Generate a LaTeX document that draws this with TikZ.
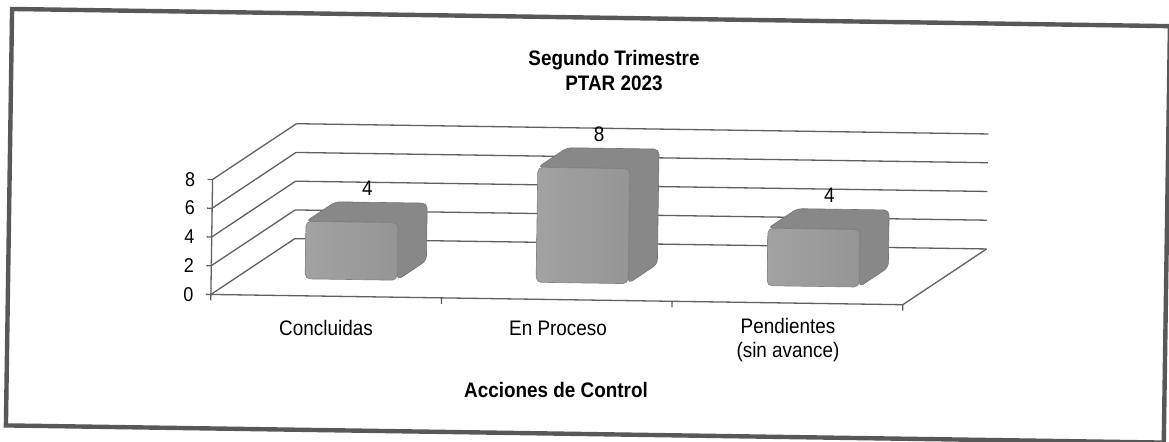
\documentclass[tikz,border=0pt]{standalone}
\usepackage{fontspec}
\setmainfont{Liberation Sans}[FakeStretch=0.9]
\usepackage{tikz}
\definecolor{framegray}{HTML}{585858}
\definecolor{gridgray}{HTML}{606060}
\definecolor{barface}{HTML}{A2A2A2}
\definecolor{barlight}{HTML}{B4B4B4}
\definecolor{bardark}{HTML}{888888}

\begin{document}
\begin{tikzpicture}[x=0.5pt,y=-0.5pt,
    gridline/.style={gridgray,line width=0.65pt},
    barside/.style={rounded corners=2.5pt,fill=bardark,draw=bardark!85!black,line width=0.3pt},
    barfront/.style={rounded corners=2.5pt,left color=barface,middle color=barlight,right color=barface!92!black,draw=barface!80!black,line width=0.3pt},
    ticklbl/.style={anchor=east,inner sep=0pt,font=\fontsize{10}{11}\selectfont},
    vallbl/.style={anchor=south,inner sep=0pt,font=\fontsize{10.5}{12}\selectfont},
    catlbl/.style={align=center,font=\fontsize{10.5}{12}\selectfont}]
\useasboundingbox (0,0) rectangle (1169,442);
\begin{scope}[rotate around={-0.85:(585,221)}]
% frame
\draw[framegray,line width=2.2pt] (9,17.5) rectangle (1167,434);
% walls and floor
\draw[gridline] (212,300) -- (295,243);
\draw[gridline] (212,271.25) -- (295,214.25);
\draw[gridline] (212,242.5) -- (295,185.5);
\draw[gridline] (212,213.75) -- (295,156.75);
\draw[gridline] (212,185) -- (295,128);
\draw[gridline] (295,243) -- (987,243);
\draw[gridline] (295,214.25) -- (987,214.25);
\draw[gridline] (295,185.5) -- (987,185.5);
\draw[gridline] (295,156.75) -- (987,156.75);
\draw[gridline] (295,128) -- (987,128);
\draw[gridline] (212,300) -- (904,300) -- (987,243);
\draw[gridline] (212,306) -- (212,185);
\draw[gridline] (207,300) -- (212,300);
\draw[gridline] (207,271.25) -- (212,271.25);
\draw[gridline] (207,242.5) -- (212,242.5);
\draw[gridline] (207,213.75) -- (212,213.75);
\draw[gridline] (207,185) -- (212,185);
\draw[gridline] (442.7,300) -- (442.7,306);
\draw[gridline] (673.3,300) -- (673.3,306);
\draw[gridline] (904,300) -- (904,306);
% tick labels
\node[ticklbl] (t0) at (195,300) {0};
\node[ticklbl] (t2) at (195,271.25) {2};
\node[ticklbl] (t4) at (195,242.5) {4};
\node[ticklbl] (t6) at (195,213.75) {6};
\node[ticklbl] (t8) at (195,185) {8};
% Concluidas
\draw[barside] (306,225.5) -- (335,205.5) -- (427,205.5) -- (427,263) -- (398,283) -- (398,225.5) -- cycle;
\draw[barfront] (306,225.5) rectangle (398,283);
\node[vallbl] (v1) at (367,199) {4};
% En Proceso
\draw[barside] (537,168) -- (566,148) -- (658,148) -- (658,263) -- (629,283) -- (629,168) -- cycle;
\draw[barfront] (537,168) rectangle (629,283);
\node[vallbl] (v2) at (598,142) {8};
% Pendientes
\draw[barside] (768,225.5) -- (797,205.5) -- (889,205.5) -- (889,263) -- (860,283) -- (860,225.5) -- cycle;
\draw[barfront] (768,225.5) rectangle (860,283);
\node[vallbl] (v3) at (829,199) {4};
\end{scope}
% titles
\node[align=center,font=\bfseries\fontsize{10.5}{12.5}\selectfont] (title) at (614,71) {Segundo Trimestre\\PTAR 2023};
\node[catlbl] (c1) at (326,328) {Concluidas};
\node[catlbl] (c2) at (558,328) {En Proceso};
\node[catlbl] (c3) at (788,340) {Pendientes\\(sin avance)};
\node[font=\bfseries\fontsize{10.5}{12}\selectfont] (axis) at (556,390) {Acciones de Control};
\end{tikzpicture}
\end{document}
